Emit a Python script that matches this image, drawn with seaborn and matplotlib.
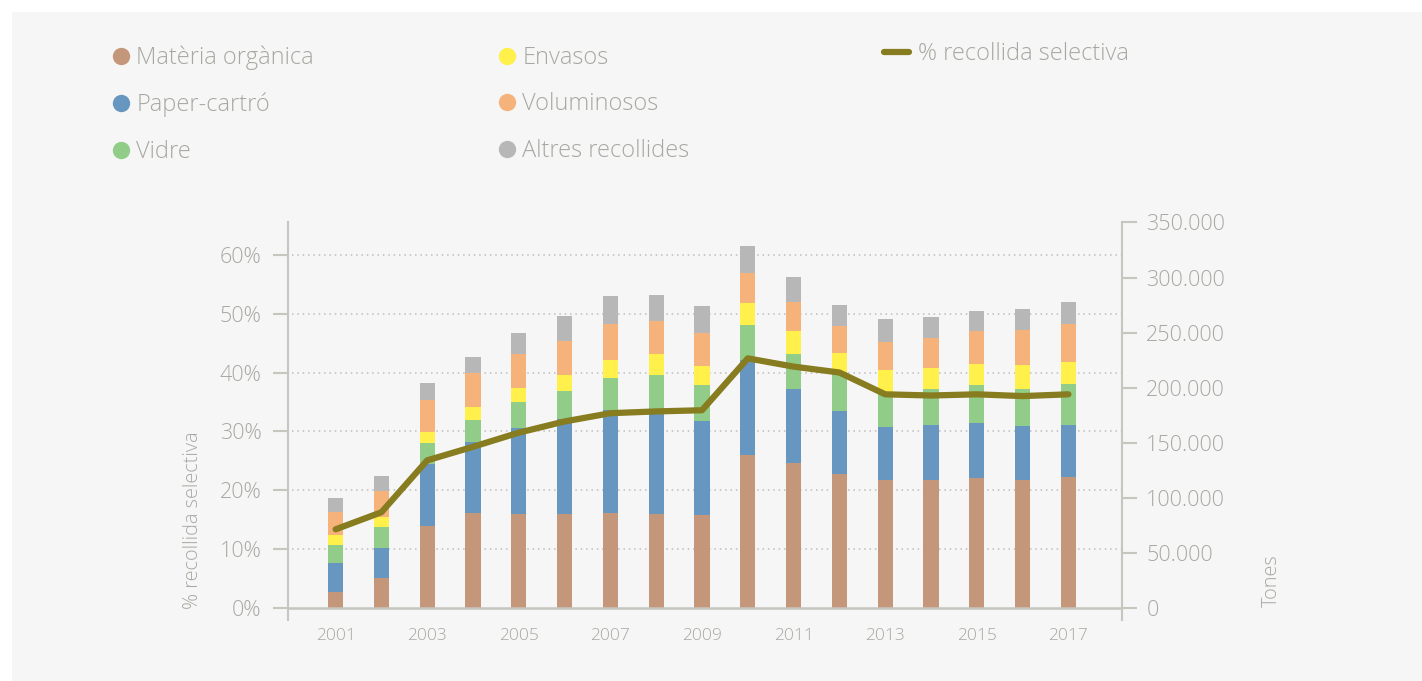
import numpy as np
import pandas as pd
import matplotlib
matplotlib.use("Agg")
import matplotlib.pyplot as plt
import matplotlib.transforms as mtransforms
from matplotlib.lines import Line2D
from matplotlib.patches import Rectangle
import seaborn as sns

# ---- data -------------------------------------------------------------
years = [str(y) for y in range(2001, 2018)]
tick_years = ["2001", "2003", "2005", "2007", "2009", "2011", "2013", "2015", "2017"]

# tonnes collected per stream
materia_organica = [14500, 27900, 74300, 86100, 85200, 85200, 86100, 85200, 84300,
                    138800, 131500, 121500, 116100, 116100, 117900, 116100, 118800]
paper_carto = [26400, 26400, 56300, 64500, 78200, 86300, 93600, 90900, 85400,
               86400, 67300, 57300, 48200, 50000, 50000, 49100, 47300]
vidre = [16100, 19100, 19100, 20000, 23600, 25500, 29100, 35400, 32800,
         31800, 31800, 35500, 30900, 32700, 34600, 33600, 37300]
envasos = [9100, 9100, 10000, 11900, 12700, 14500, 16400, 19100, 17200,
           20000, 20900, 17200, 20900, 19100, 19100, 21800, 20000]
voluminosos = [20900, 23500, 29100, 30900, 30900, 30900, 32700, 30000, 30000,
               27300, 26400, 24600, 25400, 27300, 29900, 31800, 34500]
altres_recollides = [13000, 13800, 15500, 14500, 19100, 22800, 25500, 23700, 24600,
                     24500, 22700, 19100, 20900, 19100, 18200, 19100, 20000]

# selective collection rate (%)
pct_recollida = [13.4, 16.3, 25.1, 27.4, 29.8, 31.7, 33.1, 33.4, 33.6,
                 42.4, 41.0, 40.0, 36.3, 36.1, 36.3, 36.0, 36.3]

series_names = ["Matèria orgànica", "Paper-cartró", "Vidre",
                "Envasos", "Voluminosos", "Altres recollides"]
series_values = [materia_organica, paper_carto, vidre,
                 envasos, voluminosos, altres_recollides]
series_colors = ["#c4977a", "#6797c0", "#91cd88", "#fff04c", "#f5b37b", "#b7b7b7"]
line_label = "% recollida selectiva"
line_color = "#877c1f"

# ---- style ------------------------------------------------------------
sns.set_style("white")
plt.rcParams["font.family"] = ["Open Sans", "DejaVu Sans"]
plt.rcParams["font.weight"] = "light"
TEXT = "#a8a8a2"
SPINE = "#c6c6be"
GRID = "#bdbdbd"

W, H = 1422, 681
fig = plt.figure(figsize=(W / 100, H / 100), dpi=100, facecolor="white")
fig.patches.append(Rectangle((12 / W, 0), 1 - 12 / W, 1 - 12 / H,
                             transform=fig.transFigure, facecolor="#f6f6f6",
                             edgecolor="none", zorder=-10))

left, right, top, bottom = 288, 1122, 222, 620
ax = fig.add_axes([left / W, 1 - bottom / H, (right - left) / W, (bottom - top) / H])
ax.set_facecolor("none")

# ---- stacked bars (tonnes, right-hand scale) ---------------------------
df = pd.DataFrame({"any": years})
cum = np.zeros(len(years))
cums = []
for vals in series_values:
    cum = cum + np.array(vals, dtype=float)
    cums.append(cum.copy())
for name, c, col in reversed(list(zip(series_names, cums, series_colors))):
    df[name] = c
    sns.barplot(data=df, x="any", y=name, order=years, color=col,
                saturation=1, width=0.33, linewidth=0, edgecolor="none",
                ax=ax, zorder=3)

# ---- percentage line (left-hand scale) --------------------------------
ax2 = ax.twinx()
ax2.set_facecolor("none")
sns.lineplot(x=np.arange(len(years)), y=pct_recollida, ax=ax2, color=line_color,
             lw=4.5, solid_capstyle="round", zorder=5)

# tonnes axis on the right
ax.set_xlim(-1.04, 17.17)
ax.set_ylim(-10600, 350450)
ax.yaxis.tick_right()
ax.yaxis.set_label_position("right")
ax.set_yticks(range(0, 350001, 50000))
ax.set_yticklabels([f"{v:,}".replace(",", ".") for v in range(0, 350001, 50000)])
ax.set_xticks([years.index(y) for y in tick_years])
ax.set_xticklabels(tick_years)
ax.set_xlabel("")
ax.set_ylabel("")
ax.tick_params(axis="y", which="both", right=True, left=False,
               labelright=True, labelleft=False, direction="out",
               length=11, width=1.5, color=SPINE, labelcolor=TEXT,
               labelsize=15.5, pad=6.5)
ax.tick_params(axis="x", length=0, labelcolor=TEXT, labelsize=12.5, pad=5.5)
for side in ["top", "bottom", "left"]:
    ax.spines[side].set_visible(False)
ax.spines["right"].set_color(SPINE)
ax.spines["right"].set_linewidth(1.5)
ax.axhline(0, color=SPINE, lw=1.8, zorder=4)

# percentage axis on the left
ax2.set_ylim(-1.98, 65.53)
ax2.set_xlim(-1.04, 17.17)
ax2.yaxis.tick_left()
ax2.yaxis.set_label_position("left")
pct_ticks = list(range(0, 61, 10))
ax2.set_yticks(pct_ticks)
ax2.set_yticklabels([f"{t}%" for t in pct_ticks])
ax2.tick_params(axis="y", which="both", left=True, right=False,
                labelleft=True, labelright=False, direction="out",
                length=11, width=1.5, color=SPINE, labelcolor=TEXT,
                labelsize=15.5, pad=8)
for side in ["top", "bottom", "right"]:
    ax2.spines[side].set_visible(False)
ax2.spines["left"].set_color(SPINE)
ax2.spines["left"].set_linewidth(1.5)
ax2.set_ylabel("")

# dotted grid at the percentage ticks, behind the bars
blend = mtransforms.blended_transform_factory(ax.transAxes, ax2.transData)
ax.hlines(pct_ticks[1:], 0.005, 1, transform=blend, colors=GRID,
          linestyles=(0, (1, 2.5)), lw=1.1, zorder=1)

# axis titles
fig.text(193 / W, 1 - 520 / H, line_label, rotation=90, ha="center", va="center",
         color=TEXT, fontsize=14.3)
fig.text(1272 / W, 1 - 581 / H, "Tones", rotation=90, ha="center", va="center",
         color=TEXT, fontsize=14.3)

# ---- legends -------------------------------------------------------------
def dot(col):
    return Line2D([], [], ls="none", marker="o", markersize=12.5,
                  markerfacecolor=col, markeredgecolor="none")

leg_kw = dict(frameon=False, fontsize=17, labelcolor=TEXT, handlelength=0.6,
              handletextpad=0.35, labelspacing=0.95, borderpad=0, borderaxespad=0,
              loc="upper left")
leg1 = fig.legend([dot(c) for c in series_colors[:3]], series_names[:3],
                  bbox_to_anchor=(114 / W, 1 - 46 / H), **leg_kw)
leg2 = fig.legend([dot(c) for c in series_colors[3:]], series_names[3:],
                  bbox_to_anchor=(500 / W, 1 - 46 / H), **leg_kw)
leg3 = fig.legend([Line2D([], [], color=line_color, lw=4.5, solid_capstyle="round")],
                  [line_label], bbox_to_anchor=(884 / W, 1 - 42 / H),
                  **{**leg_kw, "handlelength": 1.05, "handletextpad": 0.4})

fig.savefig("out.png", dpi=100, facecolor=fig.get_facecolor())
